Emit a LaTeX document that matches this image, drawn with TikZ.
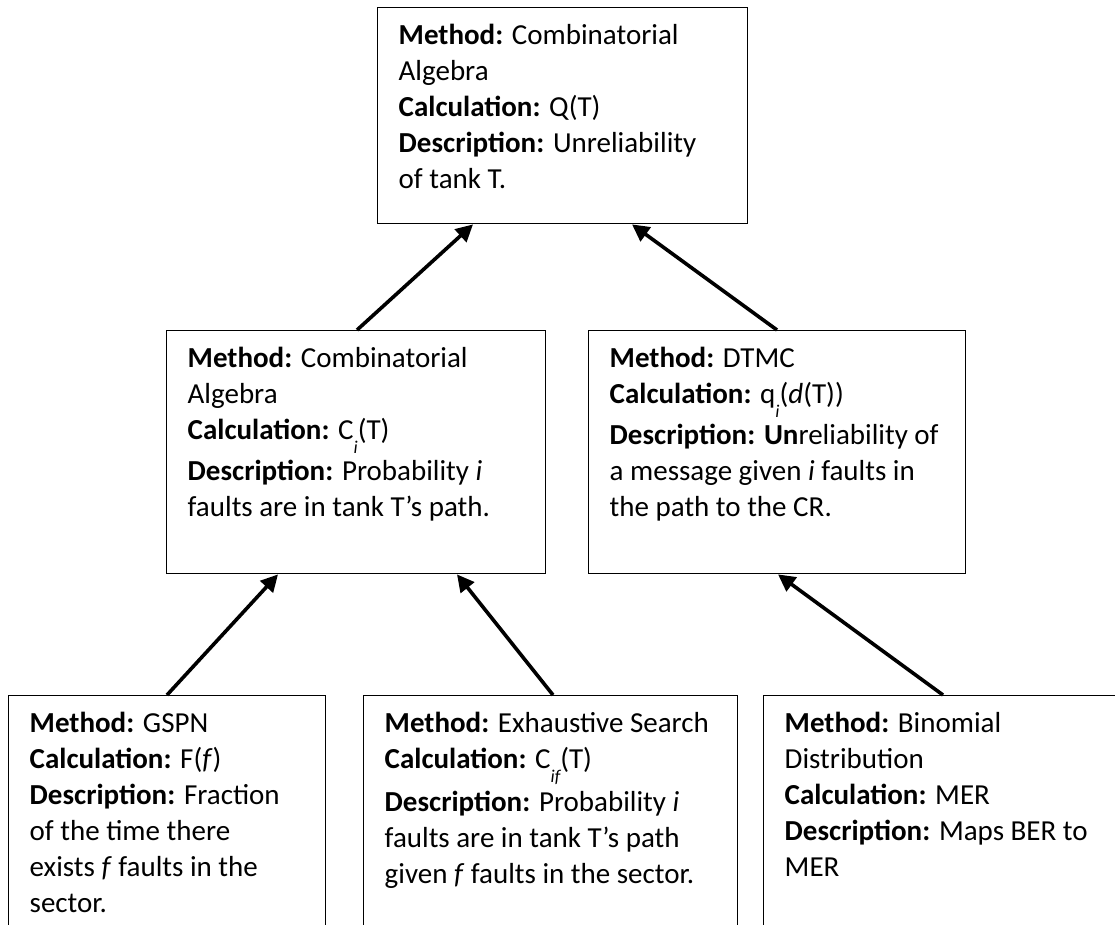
\documentclass[tikz,border=0pt]{standalone}
\usepackage{fontspec}
\setmainfont{Carlito}
\usetikzlibrary{arrows.meta}
\def\M{\textbf{Method:} }
\def\Calc{\textbf{Calculation:} }
\def\Desc{\textbf{Description:} }
\def\sub#1{\raisebox{-14pt}{\fontsize{18}{18}\selectfont\itshape #1}}
\newcommand{\boxtext}[3]{\hspace*{21pt}\parbox[t][#2pt][t]{#1pt}{\raggedright\fontsize{29}{36}\selectfont\rule{0pt}{37pt}#3}}

\begin{document}
\begin{tikzpicture}[x=1pt, y=-1pt,
	methodbox/.style={draw, line width=1.4pt, anchor=north west, inner sep=0pt},
	link/.style={line width=3.6pt, -{Triangle[length=17pt,width=17pt]}}]
	\clip (0,0) rectangle (1115,924);
	% top level
	\node[methodbox] (top) at (377,7) {\boxtext{349}{216}{\M Combinatorial\\Algebra\\\Calc Q(T)\\\Desc Unreliability\\of tank T.}};
	% middle level
	\node[methodbox] (midL) at (166,330) {\boxtext{358}{243}{\M Combinatorial\\Algebra\\\Calc C\sub{i}(T)\\[5pt]\Desc Probability \textit{i}\\faults are in tank T’s path.}};
	\node[methodbox] (midR) at (588,330) {\boxtext{356}{243}{\M DTMC\\\Calc q\sub{i}(\textit{d}(T))\\[5pt]\textbf{Description: Un}reliability of\\a message given \textit{i} faults in\\the path to the CR.}};
	% bottom level
	\node[methodbox] (botL) at (8,695) {\boxtext{296}{260}{\M GSPN\\\Calc F(\textit{f})\\\Desc Fraction\\of the time there\\exists \textit{f} faults in the\\sector.}};
	\node[methodbox] (botM) at (363,695) {\boxtext{353}{260}{\M Exhaustive Search\\\Calc C\sub{if}(T)\\[5pt]\Desc Probability \textit{i}\\faults are in tank T’s path\\given \textit{f} faults in the sector.}};
	\node[methodbox] (botR) at (763,695) {\boxtext{379}{260}{\M Binomial\\Distribution\\\Calc MER\\\Desc Maps BER to\\MER}};
	% connectors
	\draw[link] ([xshift=191pt]midL.north west) -- ([xshift=96pt]top.south west);
	\draw[link] ([xshift=189pt]midR.north west) -- ([xshift=255pt]top.south west);
	\draw[link] ([xshift=159pt]botL.north west) -- ([xshift=112pt]midL.south west);
	\draw[link] ([xshift=190pt]botM.north west) -- ([xshift=291pt]midL.south west);
	\draw[link] ([xshift=180pt]botR.north west) -- ([xshift=190pt]midR.south west);
\end{tikzpicture}
\end{document}
